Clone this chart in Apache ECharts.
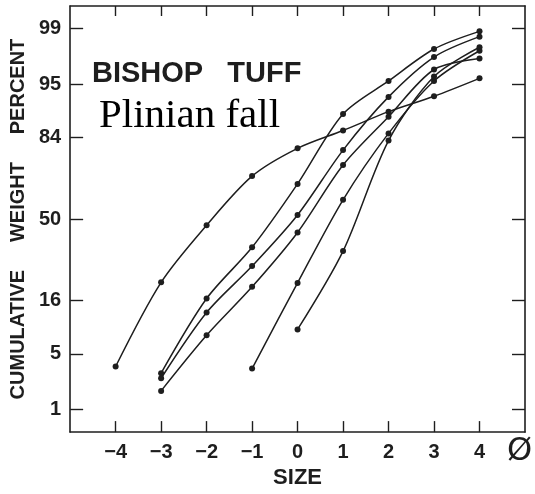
<!DOCTYPE html>
<html lang="en">
<head>
    <meta charset="UTF-8">
    <title>Bishop Tuff - Plinian fall</title>
    <script src="https://cdn.jsdelivr.net/npm/echarts@6/dist/echarts.min.js"></script>
    <style>
        html, body { margin: 0; padding: 0; background: #fff; }
        #chart { width: 535px; height: 494px; }
    </style>
</head>
<body>
<div id="chart"></div>
<script type="text/javascript">

    // grain size classes (phi) and first class of each sample
    var sizes = [-4, -3, -2, -1, 0, 1, 2, 3, 4];
    var startPhi = [-4, -3, -3, -3, -1, 0];

    // cumulative weight percent
    var sample1 = [3.6, 22, 47, 70, 80.6, 86, 90.5, 93.3, 95.7];
    var sample2 = [3.0, 16.6, 36.5, 66.6, 90, 95.4, 98.1, 98.9];
    var sample3 = [2.6, 12.7, 28.3, 52, 80, 93.2, 97.6, 98.7];
    var sample4 = [1.8, 7.8, 20.4, 43.5, 74.5, 89.4, 96.6, 97.5];
    var sample5 = [3.4, 21.8, 59.3, 85.2, 95.4, 98];
    var sample6 = [8.9, 34.8, 83.1, 95.9, 98.2];

    // probability axis tick labels
    var percentTicks = [1, 5, 16, 50, 84, 95, 99];

    // inverse normal cdf (Acklam), turns percent into probit units
    function probit(p) {
        var a = [-3.969683028665376e+01, 2.209460984245205e+02, -2.759285104469687e+02, 1.383577518672690e+02, -3.066479806614716e+01, 2.506628277459239e+00];
        var b = [-5.447609879822406e+01, 1.615858368580409e+02, -1.556989798598866e+02, 6.680131188771972e+01, -1.328068155288572e+01];
        var c = [-7.784894002430293e-03, -3.223964580411365e-01, -2.400758277161838e+00, -2.549732539343734e+00, 4.374664141464968e+00, 2.938163982698783e+00];
        var d = [7.784695709041462e-03, 3.224671290700398e-01, 2.445134137142996e+00, 3.754408661907416e+00];
        var q, r;
        if (p < 0.02425) {
            q = Math.sqrt(-2 * Math.log(p));
            return (((((c[0]*q+c[1])*q+c[2])*q+c[3])*q+c[4])*q+c[5]) / ((((d[0]*q+d[1])*q+d[2])*q+d[3])*q+1);
        }
        if (p > 1 - 0.02425) {
            q = Math.sqrt(-2 * Math.log(1 - p));
            return -(((((c[0]*q+c[1])*q+c[2])*q+c[3])*q+c[4])*q+c[5]) / ((((d[0]*q+d[1])*q+d[2])*q+d[3])*q+1);
        }
        q = p - 0.5;
        r = q * q;
        return (((((a[0]*r+a[1])*r+a[2])*r+a[3])*r+a[4])*r+a[5])*q / (((((b[0]*r+b[1])*r+b[2])*r+b[3])*r+b[4])*r+1);
    }

    var tickZ = percentTicks.map(function (p) { return probit(p / 100); });

    function toPoints(values, start) {
        return values.map(function (v, i) {
            return [start + i, probit(v / 100)];
        });
    }

    var samples = [sample1, sample2, sample3, sample4, sample5, sample6];
    var ink = '#1e1e1e';
    var boldFont = "'Liberation Sans', Arial, sans-serif";

    var series = samples.map(function (s, k) {
        return {
            type: 'line',
            data: toPoints(s, startPhi[k]),
            smooth: 0.3,
            symbol: 'circle',
            symbolSize: 6,
            itemStyle: { color: ink },
            lineStyle: { color: ink, width: 1.5 },
            z: 3
        };
    });

    var frameLine = { show: true, onZero: false, lineStyle: { color: ink, width: 1.6 } };

    var myChart = echarts.init(document.getElementById('chart'));
    myChart.setOption({
        animation: false,
        backgroundColor: '#fff',
        grid: { left: 69, right: 10, top: 6, bottom: 57 },
        xAxis: [
            {
                type: 'value', min: -5, max: 5, interval: 1,
                axisLine: frameLine,
                axisTick: { show: true, inside: true, length: 11, customValues: sizes, lineStyle: { color: ink, width: 1.4 } },
                axisLabel: {
                    customValues: sizes, margin: 10,
                    color: ink, fontFamily: boldFont, fontWeight: 'bold', fontSize: 20,
                    formatter: function (v) { return v < 0 ? '\u2212' + Math.abs(v) : String(v); }
                },
                splitLine: { show: false },
                name: 'SIZE', nameLocation: 'middle', nameGap: 33,
                nameTextStyle: { color: ink, fontFamily: boldFont, fontWeight: 'bold', fontSize: 22 }
            },
            {
                type: 'value', position: 'top', min: -5, max: 5, interval: 1,
                axisLine: frameLine,
                axisTick: { show: true, inside: true, length: 10, customValues: sizes, lineStyle: { color: ink, width: 1.4 } },
                axisLabel: { show: false },
                splitLine: { show: false }
            }
        ],
        yAxis: [
            {
                type: 'value', min: -2.6, max: 2.6,
                axisLine: frameLine,
                axisTick: { show: true, inside: true, length: 13, customValues: tickZ, lineStyle: { color: ink, width: 1.4 } },
                axisLabel: {
                    customValues: tickZ, margin: 9,
                    color: ink, fontFamily: boldFont, fontWeight: 'bold', fontSize: 20,
                    formatter: function (v) {
                        var best = 0;
                        tickZ.forEach(function (z, i) {
                            if (Math.abs(z - v) < Math.abs(tickZ[best] - v)) best = i;
                        });
                        return String(percentTicks[best]);
                    }
                },
                splitLine: { show: false },
                name: 'CUMULATIVE     WEIGHT     PERCENT', nameLocation: 'middle', nameGap: 42,
                nameTextStyle: { color: ink, fontFamily: boldFont, fontWeight: 'bold', fontSize: 20 }
            },
            {
                type: 'value', position: 'right', min: -2.6, max: 2.6,
                axisLine: frameLine,
                axisTick: { show: true, inside: true, length: 13, customValues: tickZ, lineStyle: { color: ink, width: 1.4 } },
                axisLabel: { show: false },
                splitLine: { show: false }
            }
        ],
        graphic: [
            {
                type: 'text', left: 92, top: 59, z: 10,
                style: { text: 'BISHOP   TUFF', fill: ink, font: "bold 29px 'Liberation Sans', Arial, sans-serif" }
            },
            {
                type: 'text', left: 99, top: 96, z: 10,
                style: { text: 'Plinian fall', fill: '#000', font: "41px 'Liberation Serif', 'Times New Roman', serif" }
            },
            {
                type: 'text', left: 507, top: 436, z: 10,
                style: { text: '\u00d8', fill: ink, font: "32px 'DejaVu Sans', sans-serif" }
            }
        ],
        series: series
    });
</script>
</body>
</html>
